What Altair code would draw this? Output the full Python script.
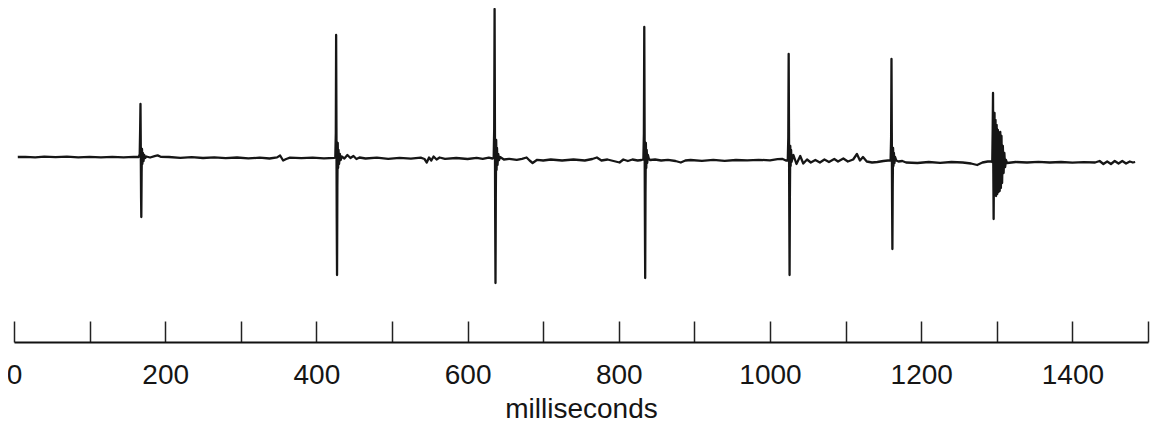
import altair as alt
import pandas as pd

# ---- data (time in ms, amplitude in arbitrary units, baseline ~0) ----
trace_ms = [
    5, 15, 28, 40, 55, 70, 85, 100, 115, 130, 145, 158, 165,
    166.3, 166.9, 167.3, 167.7, 168.1, 168.4, 168.8, 169.3, 169.8, 170.5, 171.3, 172.3, 173.5, 175,
    180, 186, 190, 194, 205, 220, 235, 250, 265, 280, 295, 310, 325, 338, 348, 352, 356, 360, 365, 380, 395, 410, 424,
    425, 425.7, 426.1, 426.5, 426.9, 427.3, 427.7, 428.2, 428.7, 429.3, 430, 431, 432.2, 433.5,
    437, 441, 445, 449, 453, 457, 465, 480, 495, 510, 525, 538, 543, 546, 549, 552, 555, 559, 563, 570, 585, 600, 612, 620, 628, 633,
    634.5, 635.2, 635.7, 636.1, 636.5, 636.9, 637.3, 637.8, 638.3, 638.9, 639.6, 640.5, 641.6, 643,
    648, 655, 665, 672, 678, 682, 686, 692, 700, 710, 725, 740, 755, 765, 771, 777, 785, 793, 801, 806, 812, 818, 825, 830,
    832.5, 833.2, 833.7, 834.1, 834.5, 834.9, 835.3, 835.8, 836.3, 836.9, 837.6, 838.5, 839.8, 841.5,
    848, 856, 865, 875, 882, 888, 895, 910, 925, 940, 955, 970, 985, 1000, 1010, 1016, 1021,
    1023.5, 1024.2, 1024.7, 1025.1, 1025.5, 1025.9, 1026.3, 1026.8, 1027.3, 1027.9, 1028.5,
    1031, 1035, 1040, 1044, 1049, 1054, 1060, 1066, 1072, 1078, 1085, 1090, 1097, 1103, 1110, 1115, 1119, 1123, 1128, 1135, 1142, 1150, 1156,
    1159.5, 1160.2, 1160.7, 1161.1, 1161.5, 1161.9, 1162.3, 1162.8, 1163.3, 1163.9, 1164.6, 1165.5, 1167, 1170, 1175,
    1180, 1195, 1210, 1225, 1240, 1255, 1266, 1274, 1281, 1288, 1293,
    1294, 1294.6, 1295.0, 1295.4, 1295.8, 1296.4, 1297.0, 1297.6, 1298.3, 1299.0, 1299.8, 1300.6, 1301.4, 1302.2, 1303.0,
    1303.8, 1304.6, 1305.4, 1306.2, 1307.0, 1308.0, 1309.0, 1310.0, 1311.0, 1312.2, 1313.5,
    1325, 1340, 1355, 1370, 1385, 1400, 1415, 1430, 1436, 1441, 1446, 1451, 1456, 1461, 1466, 1471, 1476, 1480, 1483,
]
trace_amp = [
    1.0, 1.2, 0.6, 1.3, 0.8, 1.4, 0.7, 1.2, 0.6, 1.1, 0.7, 1.2, 1.0,
    4, 30, 54, 10, -40, -59, -15, 9, -6, 5, -3, 3, 0, 1.5,
    0.5, 1.8, 2.6, 1.2, 1.0, 0.2, 0.9, 0.0, 0.7, -0.2, 0.5, -0.4, 0.3, -0.5, 0.6, 2.5, -2.5, -1.0, 0.3, -0.2, 0.4, -0.3, 0.2,
    0.5, 25, 123, 30, -60, -117, -30, 15, -10, 8, -6, 4, -2, 1.5,
    -0.5, 3, 0, 2, -1, 0.5, -0.5, 0.3, -0.8, 0.2, -0.6, 0.3, -1, -4.5, 0.5, -2.5, 1.5, -1.5, 0.5, -0.8, 0, -1.0, 0.2, -0.8, 0.3, -0.5,
    0, 30, 149, 40, -60, -125, -40, 18, -12, 10, -7, 4, -2, 1,
    -1.5, -0.8, -1.8, -0.8, 0.5, -2.5, -5, -1.8, -2.5, -1.5, -2.5, -1.5, -2.5, -1.0, 0.5, -2.5, -1.5, -3, -4.5, -1.5, -3, -1.5, -2.5, -2,
    -1.5, 25, 131, 35, -55, -120, -35, 15, -10, 8, -5, 3, -1, -2,
    -1.5, -2.5, -1.8, -3, -4.5, -2.5, -2, -2.8, -1.8, -2.8, -2, -2.4, -1.8, -2.3, -1.2, -0.8, -2.5,
    -2.5, 20, 104, 30, -50, -117, -40, 12, -8, 8, -4,
    3, -6, 2, -5.5, -1.5, -4.5, -2, -4.5, -1.5, -4, -1, -3.5, -0.5, -3.5, -1.5, 4, -2.5, 1, -3.5, -4.5, -4, -3, -2.5,
    -2.5, 20, 99, 25, -45, -91, -30, 10, -8, 5, -5, 1, -2.5, -3.5, -3,
    -4.5, -5, -4, -4.8, -4, -4.5, -5.5, -7, -4.5, -3.5, -3.5,
    -4, 30, 65, -10, -61, 10, 45, -35, 38, -38, 33, -36, 28, -34, 25,
    -33, 26, -30, 22, -25, 12, -15, 5, -9, -2, -5,
    -4, -4.5, -3.8, -4.5, -4, -4.6, -4.2, -4.5, -3, -6, -3.5, -6, -3, -5.5, -3, -5.5, -3.5, -4.5, -4,
]

tick_values = list(range(0, 1501, 100))
label_values = list(range(0, 1401, 200))
x_title = "milliseconds"

df = pd.DataFrame({"ms": trace_ms, "amp": trace_amp})
ticks_df = pd.DataFrame({"t": tick_values})

W, H = 1134, 334
FONT = "Liberation Sans"

xscale = alt.Scale(domain=[0, 1500], nice=False, zero=False)
yscale = alt.Scale(domain=[-184, 150], nice=False, zero=False)

trace = alt.Chart(df).mark_line(color="#161616", strokeWidth=2.3, strokeJoin="round").encode(
    x=alt.X("ms:Q", scale=xscale, axis=alt.Axis(
        orient="bottom", values=label_values, format="d", labelFlush=False,
        domain=False, ticks=False, grid=False,
        labelFont=FONT, labelFontSize=28, labelColor="#151515", labelPadding=19,
        title=x_title, titleFont=FONT, titleFontSize=28, titleFontWeight="normal",
        titleColor="#151515", titlePadding=6)),
    y=alt.Y("amp:Q", scale=yscale, axis=None),
)

axis_layer = alt.Chart(ticks_df).mark_point(opacity=0).encode(
    x=alt.X("t:Q", scale=xscale, axis=alt.Axis(
        orient="top", offset=-H, values=tick_values, labels=False, grid=False,
        domain=True, domainColor="#111111", domainWidth=2.2,
        ticks=True, tickSize=21, tickWidth=1.5, tickColor="#222222", title=None)),
)

chart = alt.layer(trace, axis_layer).resolve_axis(x="independent").properties(
    width=W, height=H,
    autosize=alt.AutoSizeParams(type="none"),
    padding={"left": 6, "top": 0, "right": 2, "bottom": 86},
    background="white",
).configure_view(stroke=None)

chart.save("out.html", embed_options={"renderer": "svg", "actions": False})
